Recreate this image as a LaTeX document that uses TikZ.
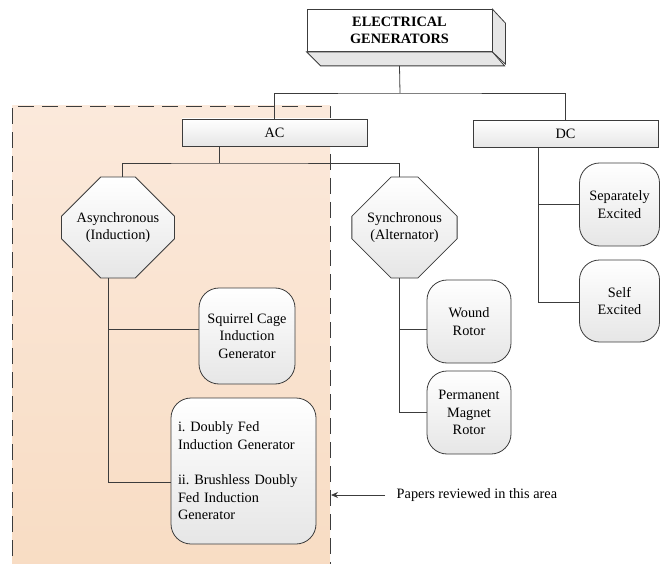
\documentclass[tikz,border=0pt]{standalone}
\usepackage{fontspec}
\setmainfont{Liberation Serif}
\newfontfamily\diagfont{Liberation Serif}
\usepackage{tikz}
\usetikzlibrary{positioning, arrows.meta, shapes.misc}

\definecolor{linegray}{HTML}{3C3C3C}
\definecolor{areatop}{HTML}{FBE9DB}
\definecolor{areabot}{HTML}{F8DCC3}
\definecolor{facegray}{HTML}{E6E6E6}

\frenchspacing
\begin{document}
\begin{tikzpicture}[x=1pt, y=-1pt, line width=0.8pt,
    every node/.style={font=\diagfont\fontsize{14.3}{17.6}\selectfont, text=black, align=center},
    link/.style={draw=linegray, line width=0.8pt},
    rectbox/.style={draw=linegray, top color=white, bottom color=facegray, minimum height=27pt, minimum width=185pt, inner sep=0pt},
    octbox/.style={chamfered rectangle, chamfered rectangle xsep=18pt, chamfered rectangle ysep=24pt,
        draw=linegray, top color=white, bottom color=facegray, minimum width=102pt, minimum height=101pt, inner sep=0pt},
    roundbox/.style={draw=linegray, rounded corners=20pt, top color=white, bottom color=facegray, inner sep=0pt}]
\useasboundingbox (0,0) rectangle (661,564);

% area of the reviewed papers
\fill[top color=areatop, bottom color=areabot] (12,106) rectangle (330,580);
\draw[linegray, dash pattern=on 16pt off 8pt] (12,580) -- (12,106) -- (330,106) -- (330,580);

% top box with 3D faces
\node[draw=linegray, fill=white, minimum width=185pt, minimum height=42pt, font=\diagfont\fontsize{14.3}{16.6}\selectfont\bfseries] (elec) at (399.5,30.5) {ELECTRICAL\\GENERATORS};
\filldraw[linegray, fill=facegray] (elec.south west) -- ++(14,14) -- ++(184,0) -- (elec.south east) -- cycle;
\filldraw[linegray, fill=facegray] (elec.north east) -- ++(13,14) -- ++(0,41) -- (elec.south east) -- cycle;

\node[rectbox] (ac) at (274.5,132.5) {AC};
\node[rectbox] (dc) at (565.5,134) {DC};

\node[octbox] (async) at (118,227.5) {Asynchronous\\(Induction)};
\node[octbox] (sync) at (404.5,227.5) {Synchronous\\(Alternator)};

\node[roundbox, minimum width=96pt, minimum height=96pt] (sqcage) at (247,336) {Squirrel Cage\\Induction\\Generator};
\node[roundbox, minimum width=145pt, minimum height=146pt, align=left, text width=131pt] (dfig) at (243.5,471) {i. Doubly Fed\\Induction Generator\\[17.6pt]ii. Brushless Doubly\\Fed Induction\\Generator};

\node[roundbox, minimum width=84pt, minimum height=83pt] (wound) at (469,321.5) {Wound\\Rotor};
\node[roundbox, minimum width=84pt, minimum height=83pt] (pmr) at (469,412.5) {Permanent\\Magnet\\Rotor};

\node[roundbox, minimum width=80pt, minimum height=83pt] (sepex) at (619.5,204.5) {Separately\\Excited};
\node[roundbox, minimum width=80pt, minimum height=82pt] (selfex) at (619.5,301) {Self\\Excited};

% connectors
\coordinate (topbus) at (400,93);
\coordinate (acbus) at (219,163);
\coordinate (asbus) at (108,0);
\coordinate (dcbus) at (538,0);
\draw[link] ([yshift=-14pt]elec.south) -- (topbus);
\draw[link] (ac.north) |- (topbus) -| (dc.north);
\draw[link] (ac.south -| acbus) -- (acbus);
\draw[link] ([xshift=4pt]async.north) |- (acbus) -| ([xshift=-5pt]sync.north);
\draw[link] (async.south -| asbus) |- ([yshift=7pt]sqcage.west);
\draw[link] (async.south -| asbus) |- ([yshift=-11pt]dfig.west);
\draw[link] ([xshift=-5pt]sync.south) |- ([yshift=-7.5pt]wound.west);
\draw[link] ([xshift=-5pt]sync.south) |- (pmr.west);
\draw[link] (dc.south -| dcbus) |- (sepex.west);
\draw[link] (dc.south -| dcbus) |- ([yshift=-1pt]selfex.west);

% note
\node[anchor=west] (note) at (393,495) {Papers reviewed in this area};
\coordinate (edge) at (331,495);
\draw[link, -{Stealth[length=7pt, width=6pt]}] ([xshift=-8pt]note.west) -- (edge);

\end{tikzpicture}
\end{document}
